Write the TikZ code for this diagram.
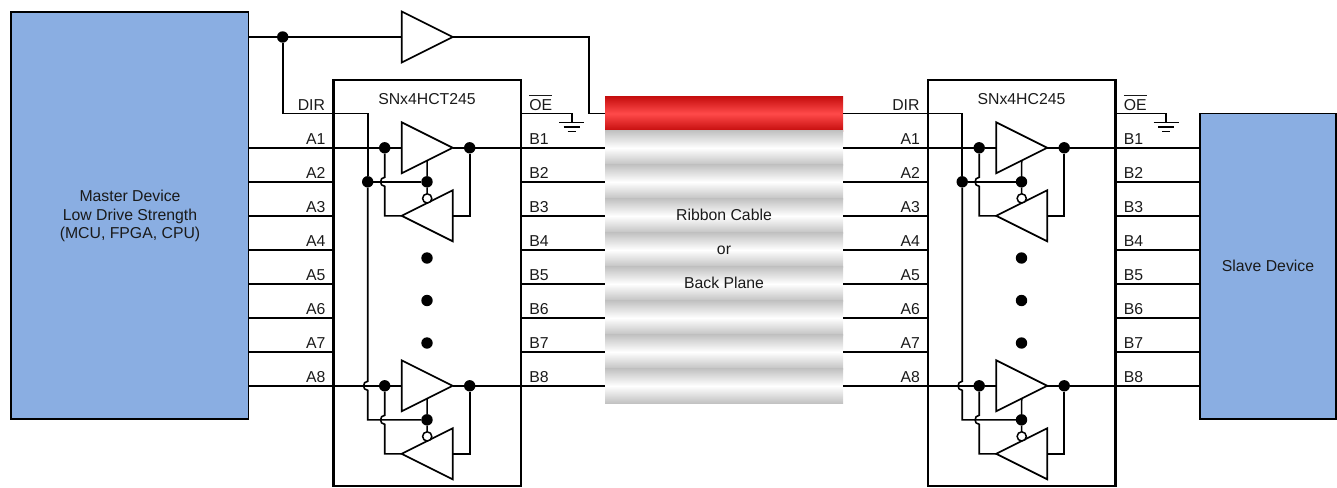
\documentclass[tikz,border=0pt]{standalone}
\usepackage{fontspec}
\setmainfont{Liberation Sans}
\definecolor{devblue}{HTML}{8AAEE2}
\definecolor{ribgray}{HTML}{C2C2C2}
\definecolor{ribred}{HTML}{C40C0C}
\definecolor{ribredhi}{HTML}{FF4A4A}
\definecolor{inktext}{HTML}{1A1A1A}
\tikzset{
  x=1pt,y=-1pt,
  every node/.style={font=\fontsize{15.8}{18}\selectfont,text=inktext,inner sep=0pt,outer sep=0pt},
  wire/.style={line width=1.6pt,black},
  gate/.style={line width=1.7pt,black,fill=white,line join=miter},
  dot/.style={circle,fill=black,draw=none,minimum size=11.4pt},
  bubble/.style={circle,fill=white,draw=black,line width=1.5pt,minimum size=9.2pt},
  chipbox/.style={draw=black,line width=2.9pt,minimum width=187.5pt,minimum height=406pt},
  device/.style={draw=black,line width=1.8pt,fill=devblue,align=center},
  pinlabel/.style={anchor=base},
  pinlabelb/.style={anchor=base west},
}
\newcommand{\fwdbuf}[3]{%
  \coordinate (#1-in) at (#2,#3);
  \coordinate (#1-out) at (#2+51,#3);
  \coordinate (#1-en) at (#2+25.5,#3+12.75);
  \draw[gate] (#2,#3-25.5) -- (#2+51,#3) -- (#2,#3+25.5) -- cycle;}
\newcommand{\revbuf}[3]{%
  \coordinate (#1-in) at (#2+51,#3);
  \coordinate (#1-out) at (#2,#3);
  \draw[gate] (#2+51,#3-25.5) -- (#2,#3) -- (#2+51,#3+25.5) -- cycle;
  \node[bubble] (#1-bub) at (#2+25.5,#3-17.4) {};}
% name, centre y
\newcommand{\channel}[2]{%
  \fwdbuf{#1-f}{401.7}{#2}
  \revbuf{#1-r}{401.7}{#2+68}
  \node[dot] (#1-ja) at (384.7,#2) {};
  \node[dot] (#1-jb) at (469.7,#2) {};
  \node[dot] (#1-je) at (427,#2+34) {};
  \draw[wire] (#1-ja) -- (#1-f-in);
  \draw[wire] (#1-f-out) -- (#1-jb);
  \draw[wire] (#1-jb) -- (#1-jb |- #1-r-in) -- (#1-r-in);
  \draw[wire] (#1-ja) -- (384.7,#2+29.5) .. controls (379.2,#2+29.5) and (379.2,#2+38.5) .. (384.7,#2+38.5) -- (#1-ja |- #1-r-out) -- (#1-r-out);
  \draw[wire] (#1-f-en) -- (#1-je) -- (#1-r-bub);}
% prefix, x offset, title, left source, right target
\newcommand{\chipunit}[5]{%
\begin{scope}[shift={(#2,0)}]
  \node[chipbox] (#1-chip) at (427.25,283) {};
  \node[anchor=base] (#1-title) at (427,104) {#3};
  \coordinate (#1-dir) at (333.5,113.5);
  \coordinate (#1-oe) at (521,113.5);
  \node[pinlabel,anchor=base east] (#1-ldir) at (325,110.5) {DIR};
  \node[pinlabelb] (#1-loe) at (529.3,110) {\leavevmode\vbox{\hrule height 1.1pt\kern 3pt\hbox{OE}}};
  \coordinate (#1-gnd) at (571.7,122.5);
  \draw[wire] (#1-oe) -- (#1-oe -| #1-gnd) -- (#1-gnd);
  \draw[wire] (559,122.5) -- (584,122.5) (563.5,127) -- (579.5,127) (567.5,131.5) -- (575.5,131.5);
  \foreach \k [evaluate=\k as \wy using {147.8+34*(\k-1)}] in {1,...,8} {
    \coordinate (#1-a\k) at (333.5,\wy);
    \coordinate (#1-b\k) at (521,\wy);
    \draw[wire] (#4 |- #1-a\k) -- (#1-a\k);
    \draw[wire] (#1-b\k) -- (#5 |- #1-b\k);
    \node[pinlabel] (#1-la\k) at (315.7,\wy-3.4) {A\k};
    \node[pinlabelb] (#1-lb\k) at (529.3,\wy-3.4) {B\k};
  }
  \channel{#1-top}{147.8}
  \channel{#1-bot}{385.8}
  \draw[wire] (#1-a1) -- (#1-top-ja);
  \draw[wire] (#1-a8) -- (#1-bot-ja);
  \draw[wire] (#1-top-jb) -- (#1-b1);
  \draw[wire] (#1-bot-jb) -- (#1-b8);
  \node[dot] (#1-jd) at (367.7,181.8) {};
  \coordinate (#1-corner) at (367.7,419.8);
  \draw[wire] (#1-dir) -- (#1-dir -| #1-jd) -- (#1-jd);
  \draw[wire] (#1-jd) -- (#1-top-je);
  \draw[wire] (#1-jd) -- (367.7,381.3) .. controls (362.2,381.3) and (362.2,390.3) .. (367.7,390.3) -- (#1-corner) -- (#1-bot-je);
  \node[dot] (#1-d1) at (427,258) {};
  \node[dot] (#1-d2) at (427,300.5) {};
  \node[dot] (#1-d3) at (427,343) {};
\end{scope}}
\begin{document}
\begin{tikzpicture}
\useasboundingbox (0,0) rectangle (1337,487);
% ribbon bands
\shade[top color=ribred,bottom color=ribred,middle color=ribredhi] (605,96) rectangle (843,131);
\foreach \k [evaluate=\k as \yt using {130.8+34*\k}] in {0,...,7}
  \shade[top color=ribgray,bottom color=ribgray,middle color=white] (605,\yt) rectangle (843,\yt+34.2);
\node[minimum width=238pt,minimum height=307pt] (ribbon) at (724,249.5) {};
\node[anchor=base] (rib1) at (724,220) {Ribbon Cable};
\node[anchor=base] (rib2) at (724,254) {or};
\node[anchor=base] (rib3) at (724,288) {Back Plane};
% devices
\node[device,minimum width=237.5pt,minimum height=407pt] (master) at (129.75,215.5) {};
\node[anchor=base] (mt1) at (130,201) {Master Device};
\node[anchor=base] (mt2) at (130,220) {Low Drive Strength};
\node[anchor=base] (mt3) at (130,238.5) {(MCU, FPGA, CPU)};
\node[device,minimum width=136pt,minimum height=305.5pt] (slave) at (1268,266.25) {};
\node[anchor=base] (st1) at (1268,271) {Slave Device};
% chips
\chipunit{L}{0}{SNx4HCT245}{master.east}{ribbon.west}
\chipunit{R}{594.5}{SNx4HC245}{ribbon.east}{slave.west}
% direction control
\node[dot] (tj) at (282.7,37) {};
\fwdbuf{tb}{401.7}{37}
\coordinate (tc) at (588.7,37);
\draw[wire] (master.east |- tj) -- (tj) -- (tb-in);
\draw[wire] (tj) -- (tj |- L-dir) -- (L-dir);
\draw[wire] (tb-out) -- (tc) -- (tc |- L-dir) -- (ribbon.west |- L-dir);
\draw[wire] (ribbon.east |- R-dir) -- (R-dir);
\end{tikzpicture}
\end{document}
